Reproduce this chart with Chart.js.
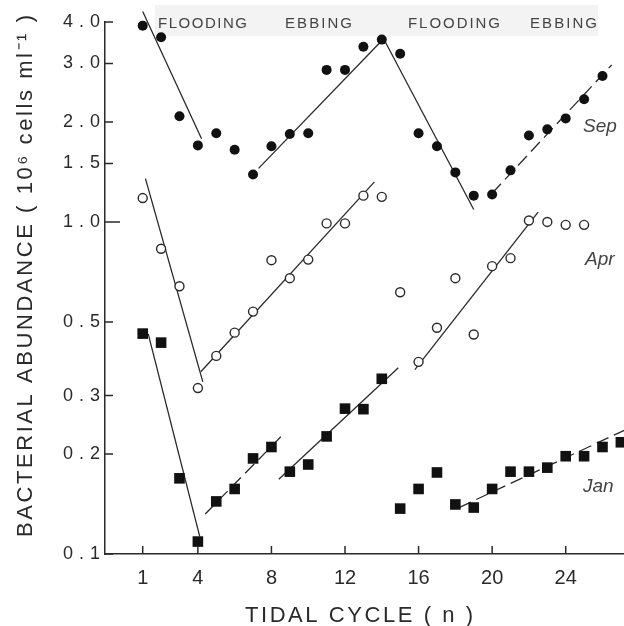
<!DOCTYPE html>
<html>
<head>
<meta charset="utf-8">
<script src="https://cdn.jsdelivr.net/npm/chart.js@4.4.0/dist/chart.umd.min.js"></script>
<style>
  html, body { margin: 0; padding: 0; background: #fff; }
  #wrap { width: 624px; height: 626px; position: relative; }
</style>
</head>
<body>
<div id="wrap"><canvas id="tideChart"></canvas></div>
<script>
// tidal cycle hours and bacterial abundance (10^6 cells/ml)
const hours = [1, 2, 3, 4, 5, 6, 7, 8, 9, 10, 11, 12, 13, 14, 15, 16, 17, 18, 19, 20, 21, 22, 23, 24, 25, 26, 27];
const sepValues = [3.9, 3.6, 2.08, 1.70, 1.85, 1.65, 1.39, 1.69, 1.84, 1.85, 2.87, 2.87, 3.37, 3.54, 3.21, 1.85, 1.69, 1.41, 1.20, 1.21, 1.43, 1.82, 1.90, 2.05, 2.34, 2.75];
const aprValues = [1.18, 0.83, 0.64, 0.316, 0.395, 0.464, 0.537, 0.767, 0.677, 0.77, 0.99, 0.99, 1.20, 1.19, 0.614, 0.379, 0.48, 0.677, 0.458, 0.736, 0.778, 1.01, 1.0, 0.98, 0.98];
const janValues = [0.461, 0.433, 0.169, 0.109, 0.144, 0.157, 0.194, 0.21, 0.177, 0.186, 0.226, 0.274, 0.273, 0.337, 0.137, 0.157, 0.176, 0.141, 0.138, 0.157, 0.177, 0.177, 0.182, 0.197, 0.197, 0.21, 0.217];

// fitted regression segments: [x0, y0, x1, y1]
const sepFits = [[1.0, 4.3, 4.2, 1.78], [7.3, 1.45, 14.1, 3.56], [14.1, 3.56, 19.0, 1.09], [20.0, 1.22, 26.5, 2.97]];
const aprFits = [[1.15, 1.35, 4.27, 0.33], [4.16, 0.354, 13.6, 1.32], [15.8, 0.359, 22.5, 1.07]];
const janFits = [[1.3, 0.46, 4.1, 0.113], [4.4, 0.132, 8.6, 0.228], [8.4, 0.168, 14.9, 0.364], [18.2, 0.138, 27.2, 0.236]];
const sepDashed = [false, false, false, true];
const janDashed = [false, true, false, true];

const xTickValues = [1, 4, 8, 12, 16, 20, 24];
const yTickValues = [0.1, 0.2, 0.3, 0.5, 1, 1.5, 2, 3, 4];
const yTickLabels = ['0.1', '0.2', '0.3', '0.5', '1.0', '1.5', '2.0', '3.0', '4.0'];
const tideLabels = ['FLOODING', 'EBBING', 'FLOODING', 'EBBING'];
const monthLabels = ['Sep', 'Apr', 'Jan'];

const FONT = '"Liberation Sans", Arial, sans-serif';
const INK = '#2a2a2a';

function pts(values) {
    return values.map((v, i) => ({ x: hours[i], y: v }));
}

function fitSets(fits, dashed) {
    return fits.map((f, i) => ({
        type: 'line',
        data: [{ x: f[0], y: f[1] }, { x: f[2], y: f[3] }],
        borderColor: INK,
        borderWidth: 1.3,
        borderDash: dashed && dashed[i] ? [13, 6] : [],
        pointRadius: 0,
        fill: false,
        clip: false,
        order: 2
    }));
}

// spread text evenly between two positions (the figure uses wide letter spacing)
function spreadText(ctx, text, x0, x1, y) {
    ctx.letterSpacing = '0px';
    const w = ctx.measureText(text).width;
    const gap = (x1 - x0 - w) / (text.length - 1);
    ctx.letterSpacing = gap + 'px';
    ctx.textAlign = 'left';
    ctx.fillText(text, x0, y);
    ctx.letterSpacing = '0px';
}

const decor = {
    id: 'decor',
    beforeDraw(chart) {
        const ctx = chart.ctx;
        ctx.save();
        ctx.fillStyle = '#f3f3f3';
        ctx.fillRect(155, 5, 443, 31);
        ctx.restore();
    },
    afterDraw(chart) {
        const ctx = chart.ctx;
        const xs = chart.scales.x;
        const ys = chart.scales.y;
        const area = chart.chartArea;
        ctx.save();

        // inward tick marks
        ctx.strokeStyle = INK;
        ctx.lineWidth = 1.5;
        ctx.beginPath();
        yTickValues.forEach(v => {
            const y = ys.getPixelForValue(v);
            ctx.moveTo(area.left, y);
            ctx.lineTo(area.left + (v === 1 ? 15 : 8), y);
        });
        xTickValues.forEach(v => {
            const x = xs.getPixelForValue(v);
            ctx.moveTo(x, area.bottom);
            ctx.lineTo(x, area.bottom - 8);
        });
        ctx.stroke();

        // y tick labels
        ctx.fillStyle = INK;
        ctx.font = '18px ' + FONT;
        ctx.textAlign = 'right';
        ctx.textBaseline = 'middle';
        ctx.letterSpacing = '6px';
        yTickLabels.forEach((t, i) => {
            ctx.fillText(t, area.left + 1, ys.getPixelForValue(yTickValues[i]));
        });
        ctx.letterSpacing = '0px';

        // axis titles
        ctx.textBaseline = 'alphabetic';
        ctx.font = '22px ' + FONT;
        spreadText(ctx, 'TIDAL CYCLE ( n )', 245, 473, 622);
        ctx.save();
        ctx.translate(32, 537);
        ctx.rotate(-Math.PI / 2);
        spreadText(ctx, 'BACTERIAL ABUNDANCE ( 10\u2076 cells ml\u207B\u00B9 )', 0, 522, 0);
        ctx.restore();

        // tide phase labels
        ctx.fillStyle = '#444';
        ctx.font = '15px ' + FONT;
        const spans = [[158, 247], [285, 352], [408, 500], [530, 597]];
        tideLabels.forEach((t, i) => spreadText(ctx, t, spans[i][0], spans[i][1], 28));

        // series labels
        ctx.font = 'italic 19px ' + FONT;
        ctx.textAlign = 'left';
        const spots = [[583, 132], [585, 265], [583, 492]];
        monthLabels.forEach((t, i) => ctx.fillText(t, spots[i][0], spots[i][1]));

        ctx.restore();
    }
};

const ctx = document.getElementById('tideChart').getContext('2d');

new Chart(ctx, {
    type: 'scatter',
    data: {
        datasets: [
            {
                label: 'Sep',
                data: pts(sepValues),
                pointStyle: 'circle',
                pointRadius: 5,
                backgroundColor: '#111',
                borderWidth: 0,
                clip: false,
                order: 1
            },
            {
                label: 'Apr',
                data: pts(aprValues),
                pointStyle: 'circle',
                pointRadius: 4.5,
                backgroundColor: '#fff',
                borderColor: INK,
                borderWidth: 1.4,
                clip: false,
                order: 1
            },
            {
                label: 'Jan',
                data: pts(janValues),
                pointStyle: 'rect',
                pointRadius: 7.5,
                backgroundColor: '#111',
                borderWidth: 0,
                clip: false,
                order: 1
            },
            ...fitSets(sepFits, sepDashed),
            ...fitSets(aprFits, null),
            ...fitSets(janFits, janDashed)
        ]
    },
    options: {
        responsive: true,
        maintainAspectRatio: false,
        animation: false,
        layout: {
            autoPadding: false,
            padding: { top: 22, right: 0, bottom: 0, left: 0 }
        },
        plugins: {
            legend: { display: false },
            tooltip: { enabled: false }
        },
        scales: {
            x: {
                type: 'linear',
                min: -1.05,
                max: 27.17,
                afterBuildTicks: (scale) => {
                    scale.ticks = xTickValues.map(v => ({ value: v }));
                },
                afterFit: (scale) => { scale.height = 72; },
                ticks: {
                    autoSkip: false,
                    maxRotation: 0,
                    color: INK,
                    padding: 12,
                    font: { size: 20, family: FONT }
                },
                grid: { drawOnChartArea: false, drawTicks: false },
                border: { display: true, color: INK, width: 1.5 }
            },
            y: {
                type: 'logarithmic',
                min: 0.1,
                max: 4,
                afterBuildTicks: (scale) => {
                    scale.ticks = yTickValues.map(v => ({ value: v }));
                },
                afterFit: (scale) => { scale.width = 105; },
                ticks: { display: false },
                grid: { drawOnChartArea: false, drawTicks: false },
                border: { display: true, color: INK, width: 1.5 }
            }
        }
    },
    plugins: [decor]
});
</script>
</body>
</html>
